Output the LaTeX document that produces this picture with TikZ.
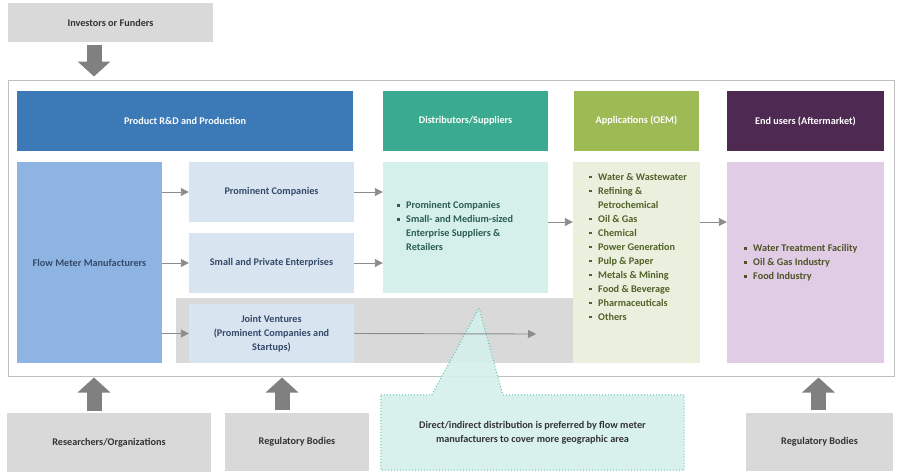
\documentclass[tikz,border=0pt]{standalone}
\usepackage{fontspec}
\setmainfont{Carlito}
\usetikzlibrary{arrows.meta}
\definecolor{grayfill}{HTML}{D9D9D9}
\definecolor{graytext}{HTML}{333333}
\definecolor{framec}{HTML}{BFBFBF}
\definecolor{rdc}{HTML}{3B79B7}
\definecolor{distc}{HTML}{3AAA90}
\definecolor{appc}{HTML}{9DBA55}
\definecolor{endc}{HTML}{4E2A52}
\definecolor{fmmc}{HTML}{8EB4E3}
\definecolor{lightblue}{HTML}{D9E4F1}
\definecolor{bluetext}{HTML}{34496A}
\definecolor{distlc}{HTML}{D5F0EA}
\definecolor{disttc}{HTML}{2A5C55}
\definecolor{applc}{HTML}{EBF0DE}
\definecolor{apptc}{HTML}{4F6228}
\definecolor{endlc}{HTML}{E0CDE5}
\definecolor{endtc}{HTML}{4F5228}
\definecolor{arrc}{HTML}{808080}
\definecolor{thinc}{HTML}{8C8C8C}
\definecolor{callb}{HTML}{5CC4AE}
\newcommand\bul{\makebox[9pt][l]{\rule[1.9pt]{2.7pt}{2.7pt}}}
\newcommand\ind{\hspace*{9pt}}
\tikzset{
  txt/.style={font=\fontsize{10.2}{14}\selectfont\bfseries},
  box/.style={txt, draw=none, inner sep=0pt, align=center},
  graybox/.style={box, fill=grayfill, text=graytext},
  head/.style={box, text=white},
  bluebox/.style={box, fill=lightblue, text=bluetext},
  thinarr/.style={draw=thinc, line width=0.9pt, -{Triangle[length=8pt,width=8pt]}},
  bigarr/.style={draw=arrc, line width=15pt, -{Triangle[length=15pt,width=32pt]}},
}
\begin{document}
\begin{tikzpicture}[x=1pt,y=-1pt]
\useasboundingbox (0,0) rectangle (900,475);
% outer frame
\node[draw=framec, line width=1pt, minimum width=886pt, minimum height=296pt, inner sep=0pt] (frame) at (451,228) {};
% top
\node[graybox, minimum width=205pt, minimum height=39pt] (inv) at (110.5,22.5) {Investors or Funders};
% headers
\node[head, fill=rdc, minimum width=336pt, minimum height=60pt] (rd) at (185,121) {Product R\&D and Production};
\node[head, fill=distc, minimum width=165pt, minimum height=60pt] (dist) at (465.5,121) {Distributors/Suppliers};
\node[head, fill=appc, minimum width=125pt, minimum height=60pt] (app) at (636.5,121) {Applications (OEM)};
\node[head, fill=endc, minimum width=157pt, minimum height=60pt] (endu) at (805.5,121) {End users (Aftermarket)};
% left column
\node[box, fill=fmmc, text=bluetext, minimum width=145pt, minimum height=201pt] (fmm) at (89.5,262.5) {Flow Meter Manufacturers};
\node[box, fill=grayfill, minimum width=397pt, minimum height=65pt] (band) at (374.5,330.5) {};
\node[bluebox, minimum width=165pt, minimum height=60pt] (pc) at (271.5,192) {Prominent Companies};
\node[bluebox, minimum width=165pt, minimum height=60pt] (spe) at (271.5,263) {Small and Private Enterprises};
\node[bluebox, minimum width=165pt, minimum height=59pt] (jv) at (271.5,333.5) {Joint Ventures\\(Prominent Companies and\\Startups)};
% lists
\node[box, fill=distlc, minimum width=165pt, minimum height=131pt] (distlist) at (465.5,227.5) {};
\node[txt, text=disttc, anchor=west, align=left, inner sep=0pt] (dlt) at (397,226) {\bul Prominent Companies\\\bul Small- and Medium-sized\\\ind Enterprise Suppliers \&\\\ind Retailers};
\node[box, fill=applc, minimum width=127pt, minimum height=201pt] (applist) at (636.5,262.5) {};
\node[txt, text=apptc, anchor=north west, align=left, inner sep=0pt] (alt) at (589,173) {\bul Water \& Wastewater\\\bul Refining \&\\\ind Petrochemical\\\bul Oil \& Gas\\\bul Chemical\\\bul Power Generation\\\bul Pulp \& Paper\\\bul Metals \& Mining\\\bul Food \& Beverage\\\bul Pharmaceuticals\\\bul Others};
\node[box, fill=endlc, minimum width=157pt, minimum height=201pt] (endlist) at (805.5,262.5) {};
\node[txt, text=endtc, anchor=west, align=left, inner sep=0pt] (elt) at (744,263) {\bul Water Treatment Facility\\\bul Oil \& Gas Industry\\\bul Food Industry};
% callout
\node[inner sep=0pt, minimum width=303pt, minimum height=75pt] (call) at (532.5,432.5) {};
\coordinate (tip) at (479,308);
\fill[distlc, opacity=0.9] (call.north west) -- ([xshift=51pt]call.north west) -- (tip) -- ([xshift=122pt]call.north west) -- (call.north east) -- (call.south east) -- (call.south west) -- cycle;
\draw[callb, line width=1pt, dotted] (call.north west) -- ([xshift=51pt]call.north west) -- (tip) -- ([xshift=122pt]call.north west) -- (call.north east) -- (call.south east) -- (call.south west) -- cycle;
\node[txt, text=graytext, align=center] (callt) at (call) {Direct/indirect distribution is preferred by flow meter\\manufacturers to cover more geographic area};
% thin arrows
\draw[thinarr] (fmm.east |- pc) -- (pc.west);
\draw[thinarr] (fmm.east |- spe) -- (spe.west);
\draw[thinarr] (fmm.east |- jv) -- (jv.west);
\draw[thinarr] (pc.east) -- (distlist.west |- pc);
\draw[thinarr] (spe.east) -- (distlist.west |- spe);
\coordinate (jvend) at (536,334);
\draw[thinarr] (jv.east) -- (jvend);
\path (distlist.east) ++(0,-5.5) coordinate (dlo);
\path (applist.west |- dlo) coordinate (ali);
\draw[thinarr] (dlo) -- (ali);
\path (applist.east) ++(0,-40.5) coordinate (alo);
\path (endlist.west |- alo) coordinate (eli);
\draw[thinarr] (alo) -- (eli);
% bottom boxes
\node[graybox, minimum width=204pt, minimum height=59pt] (res) at (109,442.5) {Researchers/Organizations};
\node[graybox, minimum width=144pt, minimum height=58pt] (reg1) at (297,441.5) {Regulatory Bodies};
\node[graybox, minimum width=147pt, minimum height=58pt] (reg2) at (819.5,441.5) {Regulatory Bodies};
% big arrows
\draw[bigarr] ([xshift=-16.5pt,yshift=-3pt]inv.south) -- ([xshift=-16.5pt,yshift=3pt]inv.south |- frame.north);
\draw[bigarr] ([xshift=-15pt,yshift=2pt]res.north) -- ([xshift=-15pt,yshift=-1pt]res.north |- frame.south);
\draw[bigarr] ([xshift=-15pt,yshift=2pt]reg1.north) -- ([xshift=-15pt,yshift=-1pt]reg1.north |- frame.south);
\draw[bigarr] ([xshift=-1pt,yshift=2pt]reg2.north) -- ([xshift=-1pt,yshift=-1pt]reg2.north |- frame.south);
\end{tikzpicture}
\end{document}
